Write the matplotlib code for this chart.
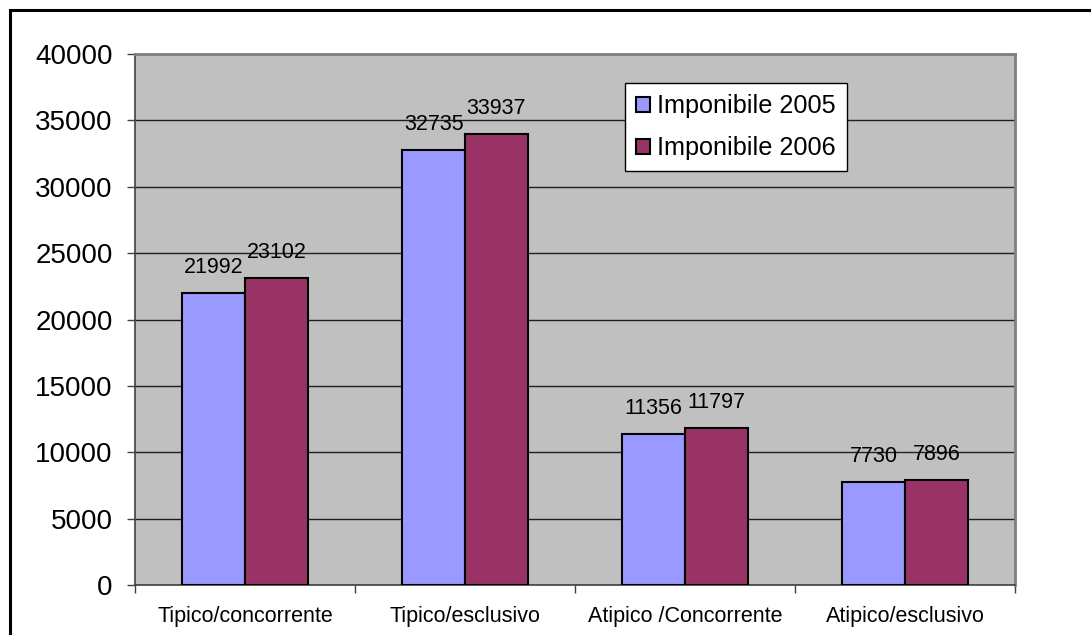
import numpy as np
import matplotlib.pyplot as plt
from matplotlib.patches import Rectangle

categories = ['Tipico/concorrente', 'Tipico/esclusivo', 'Atipico /Concorrente', 'Atipico/esclusivo']
imponibile_2005 = [21992, 32735, 11356, 7730]
imponibile_2006 = [23102, 33937, 11797, 7896]
y_ticks = [0, 5000, 10000, 15000, 20000, 25000, 30000, 35000, 40000]

plt.rcParams['font.family'] = ['Liberation Sans', 'DejaVu Sans']

W, H = 1091, 635
fig = plt.figure(figsize=(W / 100, H / 100), dpi=100)
ax = fig.add_axes([135 / W, (H - 585) / H, 880 / W, 531 / H])

# outer chart frame (runs off the right and bottom edges)
fig.patches.append(Rectangle((10 / W, -0.05), 1.2, (H - 10) / H + 0.05,
                             transform=fig.transFigure, fill=False,
                             edgecolor='black', linewidth=2.2, zorder=10))

ax.set_facecolor('#c0c0c0')
x = np.arange(len(categories))
w = 1 / 3.5
b1 = ax.bar(x - w / 2, imponibile_2005, w, color='#9999ff', edgecolor='black',
            linewidth=1.5, label='Imponibile 2005', zorder=3)
b2 = ax.bar(x + w / 2, imponibile_2006, w, color='#993366', edgecolor='black',
            linewidth=1.5, label='Imponibile 2006', zorder=3)

for bars, vals in ((b1, imponibile_2005), (b2, imponibile_2006)):
    for r, v in zip(bars, vals):
        ax.annotate(str(v), (r.get_x() + r.get_width() / 2, v),
                    xytext=(0, 11), textcoords='offset points',
                    ha='center', va='bottom', fontsize=15.5, zorder=4)

ax.set_xlim(-0.5, len(categories) - 0.5)
ax.set_ylim(0, 40000)
ax.set_yticks(y_ticks)
ax.set_yticklabels([str(t) for t in y_ticks], fontsize=20)
ax.yaxis.grid(True, color='#202020', linewidth=1.0, zorder=1)
ax.set_axisbelow(True)

ax.set_xticks(x)
ax.set_xticklabels(categories, fontsize=15.5)
ax.set_xticks(np.arange(-0.5, len(categories)), minor=True)
ax.tick_params(axis='x', which='major', length=0, pad=15)
ax.tick_params(axis='x', which='minor', length=6, width=1, color='#404040')
ax.tick_params(axis='y', length=6, width=1, color='#404040', pad=10)

for s in ('left', 'bottom'):
    ax.spines[s].set_color('#404040')
    ax.spines[s].set_linewidth(1.2)
for s in ('top', 'right'):
    ax.spines[s].set_color('#808080')
    ax.spines[s].set_linewidth(2)

leg = ax.legend(loc='upper left',
                bbox_to_anchor=((625 - 135) / 880, (585 - 83) / 531),
                fontsize=18.2, frameon=True, fancybox=False, borderaxespad=0,
                handlelength=0.55, handleheight=0.55, handletextpad=0.25,
                labelspacing=0.7, borderpad=0.45)
leg.get_frame().set_edgecolor('black')
leg.get_frame().set_linewidth(1)
leg.get_frame().set_facecolor('white')
leg.get_frame().set_alpha(1)

fig.savefig('out.png', dpi=100)
